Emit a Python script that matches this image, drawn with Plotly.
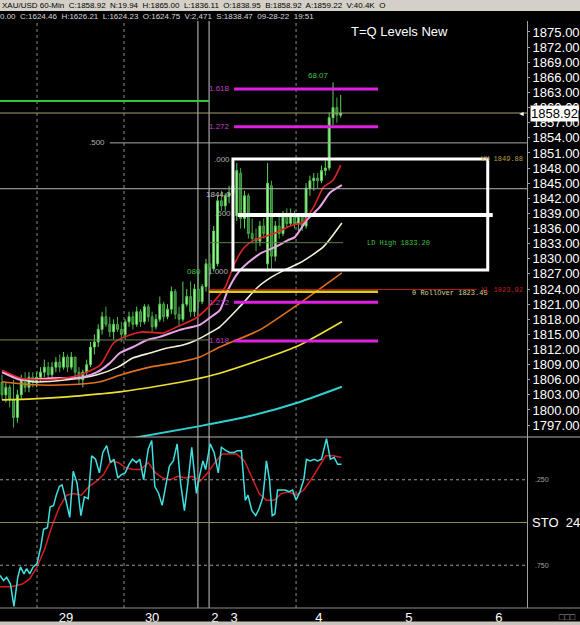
import plotly.graph_objects as go
from plotly.subplots import make_subplots

# ---------------- data ----------------
bar_index = list(range(89))
opens = [1805.5,1803.0,1804.5,1802.0,1798.5,1803.0,1806.0,1804.5,1806.5,1805.5,
         1806.5,1807.5,1808.5,1807.0,1808.5,1809.5,1808.5,1810.5,1808.5,1810.5,
         1807.5,1806.0,1807.5,1809.0,1812.5,1813.5,1816.0,1818.5,1817.0,1815.5,
         1817.0,1816.0,1815.0,1817.5,1818.5,1817.0,1819.5,1817.5,1820.5,1818.5,
         1816.5,1818.0,1821.0,1818.5,1820.0,1823.5,1819.0,1818.0,1821.0,1822.5,
         1819.5,1824.0,1821.5,1824.5,1829.0,1828.0,1829.0,1841.5,1840.5,1842.5,
         1843.0,1838.5,1847.0,1838.0,1842.5,1835.0,1834.0,1833.5,1836.5,1829.0,
         1844.5,1830.5,1836.5,1835.0,1838.5,1837.0,1839.0,1837.0,1838.5,1836.5,
         1844.0,1845.5,1846.0,1845.5,1847.5,1848.0,1858.0,1860.0,1858.5]
highs = [1807.0,1805.5,1805.0,1806.0,1804.0,1807.0,1807.5,1807.5,1807.5,1807.5,
         1808.5,1810.0,1809.5,1809.5,1810.5,1811.0,1811.5,1811.0,1811.5,1810.5,
         1808.5,1808.0,1810.0,1813.5,1815.0,1817.0,1819.5,1820.5,1818.5,1818.0,
         1818.5,1817.5,1818.0,1819.5,1819.5,1820.5,1820.0,1821.0,1821.0,1819.5,
         1819.0,1822.5,1821.5,1821.0,1824.5,1824.0,1820.5,1825.5,1824.0,1825.5,
         1825.0,1827.5,1825.0,1830.0,1831.0,1836.5,1842.5,1843.5,1843.0,1844.5,
         1849.0,1849.0,1848.0,1843.5,1843.0,1838.0,1836.0,1837.5,1838.0,1849.0,
         1845.5,1837.5,1839.0,1839.5,1840.0,1840.0,1839.5,1839.0,1839.0,1845.0,
         1846.5,1847.0,1847.0,1848.5,1849.5,1859.0,1865.0,1862.0,1862.5]
lows = [1802.0,1801.5,1800.5,1796.5,1797.5,1802.0,1803.5,1803.5,1804.5,1804.5,
        1805.5,1806.5,1806.0,1806.5,1807.5,1807.5,1808.0,1807.5,1808.0,1806.5,
        1805.0,1804.5,1806.5,1808.5,1811.0,1812.5,1815.0,1816.5,1814.5,1814.0,
        1815.5,1813.5,1814.0,1816.5,1816.0,1816.5,1816.5,1817.0,1817.5,1815.5,
        1816.0,1817.5,1817.5,1818.0,1819.0,1818.0,1816.5,1817.5,1820.5,1818.5,
        1818.5,1820.0,1821.0,1823.5,1826.5,1827.5,1828.5,1839.5,1839.5,1841.0,
        1842.0,1837.5,1836.0,1836.0,1834.0,1833.0,1831.5,1832.5,1834.0,1827.5,
        1828.0,1829.5,1834.0,1834.5,1836.0,1836.5,1836.0,1835.5,1835.5,1836.0,
        1842.5,1843.5,1844.0,1845.0,1846.5,1847.5,1856.5,1857.0,1858.0]
closes = [1803.0,1804.5,1802.0,1798.5,1803.0,1806.0,1804.5,1806.5,1805.5,1806.5,
          1807.5,1808.5,1807.0,1808.5,1809.5,1808.5,1810.5,1808.5,1810.5,1807.5,
          1806.0,1807.5,1809.0,1812.5,1813.5,1816.0,1818.5,1817.0,1815.5,1817.0,
          1816.0,1815.0,1817.5,1818.5,1817.0,1819.5,1817.5,1820.5,1818.5,1816.5,
          1818.0,1821.0,1818.5,1820.0,1823.5,1819.0,1818.0,1821.0,1822.5,1819.5,
          1824.0,1821.5,1824.5,1829.0,1828.0,1835.5,1841.5,1840.5,1842.5,1843.0,
          1844.5,1847.5,1838.0,1842.5,1835.0,1834.0,1833.5,1836.5,1835.0,1845.0,
          1830.5,1836.5,1835.0,1838.5,1837.0,1839.0,1837.0,1838.5,1836.5,1844.0,
          1845.5,1846.0,1845.5,1847.5,1848.0,1858.0,1860.0,1858.5,1858.92]

ma_red_x = [0,5,12.5,20,25.5,29,32.5,36.5,42,45.5,50.5,55,58,60.5,63,65.5,71,75.5,78,81,83.5,86,88]
ma_red_y = [1807.9,1806.3,1806.0,1806.9,1808.9,1813.3,1814.7,1815.5,1815.3,1816.5,1818.3,
            1821.5,1824.4,1829.2,1832.3,1833.7,1835.1,1836.7,1837.1,1840.3,1844.2,1845.6,1848.6]
ma_pink_x = [0,4.7,12.5,21,24.7,28,30.6,34,37.7,41,46.2,51.4,54,56.6,58.7,61.3,63.9,67.5,70.9,74.3,76.1,79.2,82.6,85.2,88.3]
ma_pink_y = [1807.5,1806.0,1806.3,1806.5,1807.5,1809.3,1811.3,1812.5,1813.9,1814.5,1815.9,1816.9,
             1818.3,1819.8,1823.8,1827.2,1829.2,1831.2,1832.3,1833.7,1834.3,1837.7,1840.3,1843.1,1844.6]
ma_white_x = [0,8,16.9,24.7,30.1,34,38.4,42.9,47,50.6,54,56.6,61.8,66.5,70.1,73.5,77.4,83.4,88.3]
ma_white_y = [1807.5,1805.6,1806.0,1807.0,1808.5,1810.3,1811.3,1812.3,1812.9,1813.9,1815.3,
              1816.5,1820.5,1824.4,1826.4,1827.8,1829.2,1832.3,1837.1]
ma_orange_x = [0,8,16.9,25.5,30.6,38.4,46.2,51.4,56.6,67,77.4,88.3]
ma_orange_y = [1805.6,1805.0,1805.0,1805.6,1806.9,1808.5,1809.5,1810.5,1812.5,1815.9,1821.2,1827.2]
ma_yellow_x = [0,8,16.9,25.5,30.6,41,49.6,56.6,67,77.4,88.3]
ma_yellow_y = [1802.0,1802.2,1802.6,1803.2,1803.6,1804.8,1806.0,1807.3,1809.9,1812.9,1817.5]
ma_cyan_x = [33,51.4,64.4,77.4,88.3]
ma_cyan_y = [1794.3,1796.8,1798.8,1801.6,1804.6]

sto_k_x = [-0.5,0.4,1.2,2.2,3.1,4.1,4.8,5.7,6.4,7.2,
           8.1,9.1,10.1,10.8,11.8,12.5,13.4,14.1,14.9,15.6,
           16.6,17.6,18.5,19.5,20.5,21.4,22.4,23.3,24.3,25.3,
           26.2,27.2,28.2,29.1,30.1,31.0,32.0,33.0,33.9,34.9,
           35.8,36.8,38.0,38.9,39.7,40.7,41.6,42.6,43.5,44.5,
           45.5,46.4,47.4,48.4,49.3,50.5,51.2,52.2,52.9,54.1,
           55.1,56.2,57.0,58.2,59.1,60.3,61.2,62.2,63.2,63.9,
           64.9,65.9,66.8,67.8,68.7,69.5,70.2,70.9,71.6,72.6,
           73.6,74.5,75.5,76.4,77.4,78.4,79.1,80.1,81.1,82.0,
           83.0,84.3,85.3,86.3,87.2,88.2]
sto_k = [19,16,18,14,1,18,24,20,23,20,
         24,26,36,46,47,59,60,66,71,72,
         63,53,80,73,54,65,64,89,87,79,
         91,95,85,87,76,78,79,84,87,85,
         87,75,93,98,71,67,60,73,83,86,
         96,73,57,75,94,67,76,86,81,96,
         91,79,94,92,91,91,92,92,63,66,
         57,54,58,65,86,75,54,55,69,69,
         69,68,69,63,68,75,87,86,87,86,
         87,99,87,88,84,84]
sto_d_x = [-0.5,2.4,5.3,7.2,9.1,11.0,13.0,14.9,16.8,18.7,20.6,22.6,24.5,26.4,28.3,30.3,32.2,
           34.1,36.0,38.0,39.9,41.8,43.7,45.7,47.6,49.5,51.4,53.4,55.3,57.2,59.1,61.0,63.0,
           64.9,66.8,68.7,70.7,72.6,74.5,76.4,78.4,80.3,82.2,84.1,86.1,88.2]
sto_d = [12.5,12.5,14,17,24,34,48,59,66,67,66,71,74,78,86,85,82,81,81,85,79,76,75,77,76,77,
         74,79,85,90,90,90,86,77,67,63,63,67,68,66,69,75,82,89,89,88]

price_ticks = [1875,1872,1869,1866,1863,1860,1857,1854,1851,1848,1845,1842,1839,1836,1833,
               1830,1827,1824,1821,1818,1815,1812,1809,1806,1803,1800,1797]
day_labels = ["29","30","2","3","4","5","6"]
day_pos = [16.6,39.0,55.3,60.3,82.3,105.7,129.1]
dotted_marks = [9.1,31.7,76.4]
solid_marks = [50.9,53.8]

last_price = 1858.92
fib_levels = [("1.618",1863.7),("1.272",1856.2),("1.272",1821.4),("1.618",1813.7)]
box_top, box_mid, box_bot = 1849.8, 1838.7, 1827.8
green_level = 1861.3
half_level = 1853.0
level_1844 = 1843.9
left_olive_level = 1813.9
ld_high = 1833.20
rollover = 1823.45
yl_level = 1823.92
vh_level = 1849.88

# ---------------- figure ----------------
XR = [-0.52, 136.4]
FONT = "Liberation Sans, Arial, sans-serif"
MONO = "Liberation Mono, DejaVu Sans Mono, monospace"

fig = make_subplots(rows=2, cols=1, shared_xaxes=True, vertical_spacing=0)

fig.add_trace(go.Candlestick(
    x=bar_index, open=opens, high=highs, low=lows, close=closes,
    increasing=dict(line=dict(color="#5cd05c", width=1), fillcolor="#aef5a0"),
    decreasing=dict(line=dict(color="#4aa84a", width=1), fillcolor="#2c7f2c"),
    whiskerwidth=0, hoverinfo="skip"), row=1, col=1)

for xs, ys, col, w in [(ma_cyan_x, ma_cyan_y, "#30d0d0", 2),
                       (ma_yellow_x, ma_yellow_y, "#eee030", 1.6),
                       (ma_orange_x, ma_orange_y, "#e07020", 1.6),
                       (ma_white_x, ma_white_y, "#f4f0d8", 1.6),
                       (ma_pink_x, ma_pink_y, "#e8a6e8", 2),
                       (ma_red_x, ma_red_y, "#e02424", 1.6)]:
    fig.add_trace(go.Scatter(x=xs, y=ys, mode="lines",
                             line=dict(color=col, width=w, shape="spline", smoothing=0.6),
                             hoverinfo="skip"), row=1, col=1)

fig.add_trace(go.Scatter(x=sto_d_x, y=sto_d, mode="lines",
                         line=dict(color="#d02020", width=1.5), hoverinfo="skip"), row=2, col=1)
fig.add_trace(go.Scatter(x=sto_k_x, y=sto_k, mode="lines",
                         line=dict(color="#40e0e0", width=1.5), hoverinfo="skip"), row=2, col=1)

shapes = []
def hline(y, x0, x1, color, width=1, dash=None, yref="y"):
    ln = dict(color=color, width=width)
    if dash:
        ln["dash"] = dash
    shapes.append(dict(type="line", xref="x", yref=yref, x0=x0, x1=x1, y0=y, y1=y, line=ln))

# vertical markers through both panels
for xv in dotted_marks:
    shapes.append(dict(type="line", xref="x", yref="paper", x0=xv, x1=xv, y0=0, y1=1,
                       line=dict(color="#8a8a8a", width=1, dash="dot"), layer="below"))
for xv in solid_marks:
    shapes.append(dict(type="line", xref="x", yref="paper", x0=xv, x1=xv, y0=0, y1=1,
                       line=dict(color="#c8c8c8", width=1), layer="below"))

hline(green_level, XR[0], 53.8, "#30c830", 2)
hline(last_price, XR[0], XR[1], "#a8a072", 1)
hline(half_level, 28.0, XR[1], "#a8a8a8", 1)
hline(level_1844, XR[0], XR[1], "#b4b4b4", 1)
hline(left_olive_level, XR[0], 53.8, "#708a50", 1)
hline(ld_high, 53.8, 88.6, "#5f7f45", 1)
hline(yl_level, 53.8, 123.4, "#c02020", 1)
hline(rollover, 53.8, 97.7, "#e8c820", 2.5)
for _, lv in fib_levels:
    hline(lv, 60.3, 97.7, "#e020e0", 3)
shapes.append(dict(type="rect", xref="x", yref="y", x0=60.0, x1=126.2, y0=box_bot, y1=box_top,
                   line=dict(color="white", width=3)))
hline(box_mid, 61.3, 127.5, "white", 4)

# lower panel levels
hline(75, XR[0], XR[1], "#9a9a9a", 1, "dot", "y2")
hline(25, XR[0], XR[1], "#9a9a9a", 1, "dot", "y2")
hline(50, XR[0], XR[1], "#8a9060", 1, None, "y2")

# frame pieces (paper coords: x px/527, y (608-py)/587)
shapes.append(dict(type="line", xref="paper", yref="paper", x0=0, x1=1.1006, y0=0.2913, y1=0.2913,
                   line=dict(color="#b0b0b0", width=1)))
shapes.append(dict(type="line", xref="paper", yref="paper", x0=0, x1=1.1006, y0=0, y1=0,
                   line=dict(color="#909090", width=1)))
shapes.append(dict(type="rect", xref="paper", yref="paper", x0=0, x1=1.1006, y0=1.0170, y1=1.0358,
                   fillcolor="#d4d0c8", line=dict(width=0)))
shapes.append(dict(type="rect", xref="paper", yref="paper", x0=0, x1=1.1006, y0=-0.0290, y1=-0.0230,
                   fillcolor="#c8c4bc", line=dict(width=0)))

ann = []
def txt(x, y, s, color, size=8, xanchor="left", xref="x", yref="y", family=FONT, **kw):
    d = dict(x=x, y=y, xref=xref, yref=yref, text=s, showarrow=False, xanchor=xanchor,
             yanchor="middle", font=dict(color=color, size=size, family=family))
    d.update(kw)
    ann.append(d)

txt(0.0, 1.0264, "XAU/USD 60-Min  C:1858.92  N:19.94  H:1865.00  L:1836.11  O:1838.95  B:1858.92  A:1859.22  V:40.4K  O",
    "black", 8, xref="paper", yref="paper", family="Liberation Sans, Arial")
txt(-0.004, 1.0085, "0.00  C:1624.46  H:1626.21  L:1624.23  O:1624.75  V:2,471  S:1838.47  09-28-22  19:51",
    "#d8d8d8", 8, xref="paper", yref="paper")
txt(0.759, 0.9813, "T=Q Levels New", "white", 13, xanchor="center", xref="paper", yref="paper")

txt(27.3, half_level, ".500", "#b0b0b0", 8, xanchor="right")
txt(59.7, box_top, ".000", "#b0b0b0", 8, xanchor="right")
txt(59.9, box_mid + 0.2, ".500", "#b0b0b0", 8, xanchor="right")
txt(59.4, box_bot - 0.3, "1.000", "#b0b0b0", 8, xanchor="right")
txt(52.2, box_bot - 0.3, "080", "#40c040", 8, xanchor="right")
txt(59.9, level_1844 - 1.2, "1844.0", "#c0c0c0", 8, xanchor="right")
for lab, lv in fib_levels:
    txt(59.7, lv, lab, "#c040c0", 8, xanchor="right")
txt(82.3, 1866.3, "68.07", "#40c040", 8, xanchor="center")
txt(94.3, ld_high, "LD High 1833.20", "#40c040", 7, family=MONO)
txt(106.0, rollover - 0.3, "0 RollOver 1823.45", "#d8d890", 7, family=MONO)
txt(123.9, yl_level - 0.2, "YL 1823.92", "#c02020", 7, family=MONO)
txt(123.9, vh_level, "VH 1849.88", "#b8a040", 7, family=MONO)

txt(1.0057, last_price, "1858.92", "black", 13, xref="paper", bgcolor="white", borderpad=0)
txt(0.9995, last_price, "◄", "white", 7, xanchor="right", xref="paper")

txt(1.011, 75, ".250", "#a0a0a0", 7, xref="paper", yref="y2")
txt(1.011, 25, ".750", "#a0a0a0", 7, xref="paper", yref="y2")
txt(1.006, 50, "STO  24,", "white", 13, xref="paper", yref="y2")
txt(1.096, -0.0152, "□□□", "#a0a0a0", 9, xanchor="right", xref="paper", yref="paper")

fig.update_layout(
    width=580, height=625, autosize=False,
    paper_bgcolor="black", plot_bgcolor="black",
    margin=dict(l=0, r=53, t=21, b=17),
    showlegend=False, hovermode=False,
    shapes=shapes, annotations=ann,
    font=dict(family=FONT, color="white"),
)
fig.update_xaxes(range=XR, showgrid=False, zeroline=False, rangeslider=dict(visible=False),
                 showline=False)
fig.update_xaxes(showticklabels=False, ticks="", row=1, col=1)
fig.update_xaxes(tickmode="array", tickvals=day_pos, ticktext=day_labels, ticks="",
                 tickfont=dict(color="white", size=13, family=FONT), row=2, col=1)
fig.update_layout(
    yaxis=dict(domain=[0.2913, 1], range=[1794.64, 1877.18], side="right", showgrid=False,
               zeroline=False, tickmode="array", tickvals=price_ticks,
               ticktext=[f"{v:.2f}" for v in price_ticks],
               tickfont=dict(color="white", size=13, family=FONT),
               ticks="outside", ticklen=2, tickcolor="#a0a0a0",
               showline=True, linecolor="#a0a0a0", linewidth=1),
    yaxis2=dict(domain=[0, 0.2913], range=[0, 100], side="right", showgrid=False,
                zeroline=False, showticklabels=False, ticks="",
                showline=True, linecolor="#a0a0a0", linewidth=1),
)

fig.write_html("out.html", config={"displayModeBar": False},
               post_script="document.body.style.margin='0';document.body.style.overflow='hidden';")
